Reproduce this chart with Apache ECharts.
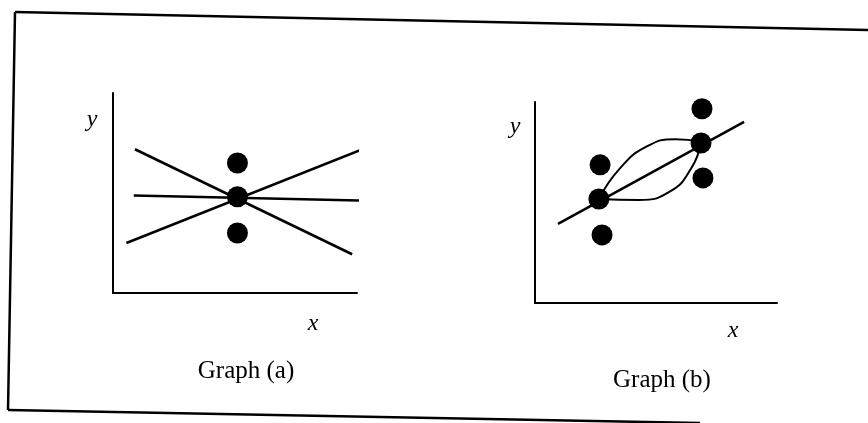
<!DOCTYPE html>
<html>
<head>
<meta charset="utf-8">
<script src="https://cdn.jsdelivr.net/npm/echarts@6/dist/echarts.min.js"></script>
<style>
  html, body { margin: 0; background: #fff; }
  #main { width: 868px; height: 423px; }
</style>
</head>
<body>
<div id="main"></div>
<script>
// Graph (a): three observations at one x, three candidate lines through the middle one
const aDotX = [5.1, 5.1, 5.1];
const aDotY = [5.2, 3.85, 2.4];
const aFallLine = [[0.9, 5.75], [9.8, 1.55]];
const aRiseLine = [[0.55, 2.0], [10.1, 5.7]];
const aFlatLine = [[0.85, 3.9], [10.25, 3.7]];

// Graph (b): two groups of observations, a straight fit and two curves
const bDotX = [2.64, 2.69, 2.77, 6.86, 6.9, 6.94];
const bDotY = [4.14, 5.5, 2.71, 6.37, 7.73, 4.98];
const bFitLine = [[0.95, 3.15], [8.64, 7.21]];
const bUpperX = [2.64, 3.5, 4.6, 5.8, 6.86];
const bUpperY = [4.14, 5.35, 6.22, 6.52, 6.42];
const bLowerX = [2.64, 4.3, 5.6, 6.45, 6.86];
const bLowerY = [4.14, 4.1, 4.45, 5.35, 6.37];

const ink = "#000";
const serif = "'Liberation Serif', 'DejaVu Serif', serif";

function zip(xs, ys) {
  return xs.map((x, i) => [x, ys[i]]);
}

function axis(idx, max) {
  return {
    gridIndex: idx,
    type: "value",
    min: 0,
    max: max,
    axisLine: { show: true, onZero: false, lineStyle: { color: ink, width: 2 } },
    axisTick: { show: false },
    axisLabel: { show: false },
    splitLine: { show: false }
  };
}

function line(idx, data, smooth) {
  return {
    type: "line",
    xAxisIndex: idx,
    yAxisIndex: idx,
    data: data,
    smooth: smooth || false,
    showSymbol: false,
    clip: false,
    silent: true,
    lineStyle: { color: ink, width: smooth ? 2 : 2.5 },
    z: 2
  };
}

function dots(idx, data) {
  return {
    type: "scatter",
    xAxisIndex: idx,
    yAxisIndex: idx,
    data: data,
    symbol: "circle",
    symbolSize: 21,
    clip: false,
    itemStyle: { color: ink, opacity: 1 },
    z: 3
  };
}

function label(text, x, y, size, italic) {
  return {
    type: "text",
    x: x,
    y: y,
    style: {
      text: text,
      fill: ink,
      font: (italic ? "italic " : "") + size + "px " + serif,
      textAlign: "center",
      textVerticalAlign: "middle"
    }
  };
}

function frame(points) {
  return {
    type: "polyline",
    shape: { points: points },
    style: { stroke: ink, lineWidth: 2.5, fill: null }
  };
}

const myChart = echarts.init(document.getElementById("main"));

const option = {
  backgroundColor: "#fff",
  animation: false,
  grid: [
    { left: 113, top: 93, width: 244, height: 200 },
    { left: 535, top: 102, width: 242, height: 201 }
  ],
  xAxis: [axis(0, 10), axis(1, 10)],
  yAxis: [axis(0, 8), axis(1, 8)],
  series: [
    line(0, aFallLine),
    line(0, aRiseLine),
    line(0, aFlatLine),
    dots(0, zip(aDotX, aDotY)),
    line(1, bFitLine),
    line(1, zip(bUpperX, bUpperY), 0.5),
    line(1, zip(bLowerX, bLowerY), 0.5),
    dots(1, zip(bDotX, bDotY))
  ],
  graphic: [
    frame([[15, 12], [868, 30]]),
    frame([[15, 12], [8, 410]]),
    frame([[8, 410], [700, 423]]),
    label("y", 92, 120, 24, true),
    label("x", 313, 324, 24, true),
    label("Graph (a)", 246, 371, 25, false),
    label("y", 515, 127, 24, true),
    label("x", 733, 331, 24, true),
    label("Graph (b)", 662, 380, 25, false)
  ]
};

myChart.setOption(option);
window.addEventListener("resize", function () {
  myChart.resize();
});
</script>
</body>
</html>
